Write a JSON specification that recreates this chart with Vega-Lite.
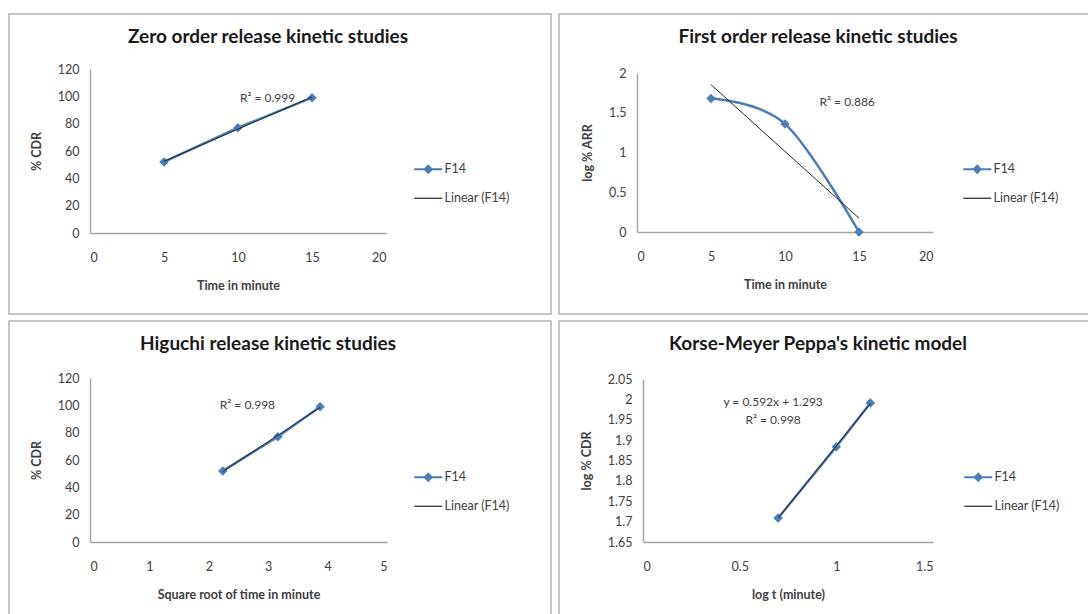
{
  "$schema": "https://vega.github.io/schema/vega-lite/v6.json",
  "background": "white",
  "padding": {"left": 8, "top": 13, "right": 0, "bottom": 0},
  "datasets": {
    "zero": [{"x": 5, "y": 52}, {"x": 10, "y": 77}, {"x": 15, "y": 99}],
    "zeroNote": [{"x": 12, "y": 99, "label": "R² = 0.999"}],
    "first": [{"x": 5, "y": 1.68}, {"x": 10, "y": 1.36}, {"x": 15, "y": 0}],
    "firstNote": [{"x": 14.2, "y": 1.64, "label": "R² = 0.886"}],
    "higuchi": [{"x": 2.236, "y": 52}, {"x": 3.162, "y": 77}, {"x": 3.873, "y": 99}],
    "higuchiNote": [{"x": 2.65, "y": 100.5, "label": "R² = 0.998"}],
    "peppas": [{"x": 0.699, "y": 1.709}, {"x": 1, "y": 1.884}, {"x": 1.176, "y": 1.991}],
    "peppasNote": [{"x": 0.673, "y": 1.994, "label": "y = 0.592x + 1.293"}, {"x": 0.673, "y": 1.949, "label": "R² = 0.998"}]
  },
  "spacing": 5,
  "resolve": {"scale": {"x": "independent", "y": "independent", "color": "independent"}, "legend": {"color": "independent"}, "axis": {"x": "independent", "y": "independent"}},
  "vconcat": [
    {
      "spacing": 8,
      "bounds": "flush",
      "resolve": {"scale": {"x": "independent", "y": "independent", "color": "independent"}, "legend": {"color": "independent"}, "axis": {"x": "independent", "y": "independent"}},
      "hconcat": [
        {
          "width": 542, "height": 300,
          "title": {"text": "Zero order release kinetic studies"},
          "encoding": {
            "x": {"field": "x", "type": "quantitative", "scale": {"domain": [0, 20], "range": [81, 377], "nice": false, "zero": false}, "axis": {"title": "Time in minute", "values": [0, 5, 10, 15, 20], "offset": -81}},
            "y": {"field": "y", "type": "quantitative", "scale": {"domain": [0, 120], "range": [219, 55], "nice": false, "zero": false}, "axis": {"title": "% CDR", "values": [0, 20, 40, 60, 80, 100, 120], "offset": -81}}
          },
          "layer": [
            {"data": {"name": "zero"}, "mark": {"type": "line", "strokeWidth": 2.5},
             "encoding": {"color": {"datum": "F14", "type": "nominal", "scale": {"domain": ["F14", "Linear (F14)"], "range": ["#4a7ebb", "#262626"]},
               "legend": {"title": null, "orient": "none", "legendX": 413, "legendY": 149,
                 "encode": {"symbols": {"update": {"shape": {"signal": "datum.label === 'F14' ? 'M-1,0L1,0M0,-0.25L0.25,0L0,0.25L-0.25,0Z' : 'stroke'"}, "fill": {"signal": "datum.label === 'F14' ? '#4a7ebb' : 'transparent'"}, "strokeWidth": {"signal": "datum.label === 'F14' ? 2 : 1.2"}}}}}}}},
            {"data": {"name": "zero"}, "mark": {"type": "point", "shape": "diamond", "filled": true, "size": 90, "color": "#4a7ebb", "opacity": 1}},
            {"data": {"name": "zero"}, "transform": [{"regression": "y", "on": "x"}], "mark": {"type": "line", "strokeWidth": 1}, "encoding": {"color": {"datum": "Linear (F14)", "type": "nominal"}}},
            {"data": {"name": "zeroNote"}, "mark": {"type": "text", "fontSize": 12, "color": "#404040", "align": "center", "baseline": "middle"}, "encoding": {"text": {"field": "label"}}}
          ]
        },
        {
          "width": 542, "height": 300,
          "title": {"text": "First order release kinetic studies"},
          "encoding": {
            "x": {"field": "x", "type": "quantitative", "scale": {"domain": [0, 20], "range": [78, 374], "nice": false, "zero": false}, "axis": {"title": "Time in minute", "values": [0, 5, 10, 15, 20], "offset": -82}},
            "y": {"field": "y", "type": "quantitative", "scale": {"domain": [0, 2], "range": [218, 59], "nice": false, "zero": false}, "axis": {"title": "log % ARR", "values": [0, 0.5, 1, 1.5, 2], "format": "~g", "offset": -78}}
          },
          "layer": [
            {"data": {"name": "first"}, "mark": {"type": "line", "strokeWidth": 2.5, "interpolate": "cardinal"},
             "encoding": {"color": {"datum": "F14", "type": "nominal", "scale": {"domain": ["F14", "Linear (F14)"], "range": ["#4a7ebb", "#262626"]},
               "legend": {"title": null, "orient": "none", "legendX": 412, "legendY": 149,
                 "encode": {"symbols": {"update": {"shape": {"signal": "datum.label === 'F14' ? 'M-1,0L1,0M0,-0.25L0.25,0L0,0.25L-0.25,0Z' : 'stroke'"}, "fill": {"signal": "datum.label === 'F14' ? '#4a7ebb' : 'transparent'"}, "strokeWidth": {"signal": "datum.label === 'F14' ? 2 : 1.2"}}}}}}}},
            {"data": {"name": "first"}, "mark": {"type": "point", "shape": "diamond", "filled": true, "size": 90, "color": "#4a7ebb", "opacity": 1}},
            {"data": {"name": "first"}, "transform": [{"regression": "y", "on": "x"}], "mark": {"type": "line", "strokeWidth": 1}, "encoding": {"color": {"datum": "Linear (F14)", "type": "nominal"}}},
            {"data": {"name": "firstNote"}, "mark": {"type": "text", "fontSize": 12, "color": "#404040", "align": "center", "baseline": "middle"}, "encoding": {"text": {"field": "label"}}}
          ]
        }
      ]
    },
    {
      "spacing": 8,
      "bounds": "flush",
      "resolve": {"scale": {"x": "independent", "y": "independent", "color": "independent"}, "legend": {"color": "independent"}, "axis": {"x": "independent", "y": "independent"}},
      "hconcat": [
        {
          "width": 542, "height": 300,
          "title": {"text": "Higuchi release kinetic studies"},
          "encoding": {
            "x": {"field": "x", "type": "quantitative", "scale": {"domain": [0, 5], "range": [81, 378], "nice": false, "zero": false}, "axis": {"title": "Square  root of time in minute", "values": [0, 1, 2, 3, 4, 5], "offset": -79}},
            "y": {"field": "y", "type": "quantitative", "scale": {"domain": [0, 120], "range": [221, 57], "nice": false, "zero": false}, "axis": {"title": "% CDR", "values": [0, 20, 40, 60, 80, 100, 120], "offset": -81}}
          },
          "layer": [
            {"data": {"name": "higuchi"}, "mark": {"type": "line", "strokeWidth": 2.5},
             "encoding": {"color": {"datum": "F14", "type": "nominal", "scale": {"domain": ["F14", "Linear (F14)"], "range": ["#4a7ebb", "#262626"]},
               "legend": {"title": null, "orient": "none", "legendX": 413, "legendY": 150,
                 "encode": {"symbols": {"update": {"shape": {"signal": "datum.label === 'F14' ? 'M-1,0L1,0M0,-0.25L0.25,0L0,0.25L-0.25,0Z' : 'stroke'"}, "fill": {"signal": "datum.label === 'F14' ? '#4a7ebb' : 'transparent'"}, "strokeWidth": {"signal": "datum.label === 'F14' ? 2 : 1.2"}}}}}}}},
            {"data": {"name": "higuchi"}, "mark": {"type": "point", "shape": "diamond", "filled": true, "size": 90, "color": "#4a7ebb", "opacity": 1}},
            {"data": {"name": "higuchi"}, "transform": [{"regression": "y", "on": "x"}], "mark": {"type": "line", "strokeWidth": 1}, "encoding": {"color": {"datum": "Linear (F14)", "type": "nominal"}}},
            {"data": {"name": "higuchiNote"}, "mark": {"type": "text", "fontSize": 12, "color": "#404040", "align": "center", "baseline": "middle"}, "encoding": {"text": {"field": "label"}}}
          ]
        },
        {
          "width": 542, "height": 300,
          "title": {"text": "Korse-Meyer Peppa's kinetic model"},
          "encoding": {
            "x": {"field": "x", "type": "quantitative", "scale": {"domain": [0, 1.5], "range": [84, 374], "nice": false, "zero": false}, "axis": {"title": "log t (minute)", "values": [0, 0.5, 1, 1.5], "format": "~g", "offset": -79}},
            "y": {"field": "y", "type": "quantitative", "scale": {"domain": [1.65, 2.05], "range": [221, 58], "nice": false, "zero": false}, "axis": {"title": "log % CDR", "values": [1.65, 1.7, 1.75, 1.8, 1.85, 1.9, 1.95, 2, 2.05], "format": "~g", "offset": -84}}
          },
          "layer": [
            {"data": {"name": "peppas"}, "mark": {"type": "line", "strokeWidth": 2.5},
             "encoding": {"color": {"datum": "F14", "type": "nominal", "scale": {"domain": ["F14", "Linear (F14)"], "range": ["#4a7ebb", "#262626"]},
               "legend": {"title": null, "orient": "none", "legendX": 413, "legendY": 150,
                 "encode": {"symbols": {"update": {"shape": {"signal": "datum.label === 'F14' ? 'M-1,0L1,0M0,-0.25L0.25,0L0,0.25L-0.25,0Z' : 'stroke'"}, "fill": {"signal": "datum.label === 'F14' ? '#4a7ebb' : 'transparent'"}, "strokeWidth": {"signal": "datum.label === 'F14' ? 2 : 1.2"}}}}}}}},
            {"data": {"name": "peppas"}, "mark": {"type": "point", "shape": "diamond", "filled": true, "size": 90, "color": "#4a7ebb", "opacity": 1}},
            {"data": {"name": "peppas"}, "transform": [{"regression": "y", "on": "x"}], "mark": {"type": "line", "strokeWidth": 1}, "encoding": {"color": {"datum": "Linear (F14)", "type": "nominal"}}},
            {"data": {"name": "peppasNote"}, "mark": {"type": "text", "fontSize": 12, "color": "#404040", "align": "center", "baseline": "middle"}, "encoding": {"text": {"field": "label"}}}
          ]
        }
      ]
    }
  ],
  "config": {
    "font": "Lato",
    "view": {"stroke": "#b3b3b3", "strokeWidth": 1.5},
    "axis": {"domainColor": "#a6a6a6", "domainWidth": 1.5, "ticks": false, "tickSize": 0, "grid": false, "labelFont": "Lato", "labelFontSize": 12.5, "labelColor": "#404040", "titleFont": "Lato", "titleFontSize": 12.5, "titleFontWeight": "bold", "titleColor": "#404040"},
    "axisX": {"labelPadding": 18, "titlePadding": 16},
    "axisY": {"labelPadding": 11, "titlePadding": 14},
    "title": {"font": "Lato", "fontSize": 19, "fontWeight": "bold", "color": "#1a1a1a", "anchor": "middle", "frame": "group", "offset": -33, "baseline": "middle", "dx": -12},
    "legend": {"labelFont": "Lato", "labelFontSize": 12.5, "labelColor": "#404040", "symbolType": "stroke", "symbolSize": 784, "labelOffset": 10, "rowPadding": 15, "padding": 0}
  }
}
